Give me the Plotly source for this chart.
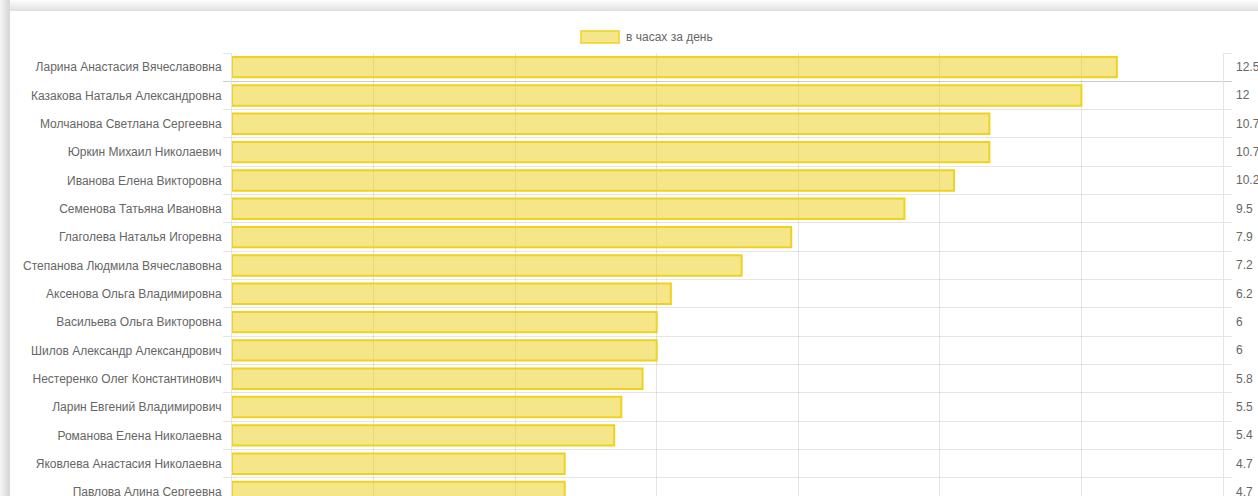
import plotly.graph_objects as go

# Часы за день по сотрудникам (видимая часть графика)
sotrudniki = [
    "Ларина Анастасия Вячеславовна",
    "Казакова Наталья Александровна",
    "Молчанова Светлана Сергеевна",
    "Юркин Михаил Николаевич",
    "Иванова Елена Викторовна",
    "Семенова Татьяна Ивановна",
    "Глаголева Наталья Игоревна",
    "Степанова Людмила Вячеславовна",
    "Аксенова Ольга Владимировна",
    "Васильева Ольга Викторовна",
    "Шилов Александр Александрович",
    "Нестеренко Олег Константинович",
    "Ларин Евгений Владимирович",
    "Романова Елена Николаевна",
    "Яковлева Анастасия Николаевна",
    "Павлова Алина Сергеевна",
]
chasy = [12.5, 12, 10.7, 10.7, 10.2, 9.5, 7.9, 7.2, 6.2, 6, 6, 5.8, 5.5, 5.4, 4.7, 4.7]
nazvanie_serii = "в часах за день"

SHIRINA, VYSOTA = 1258, 496
POLE = {"l": 232, "r": 35, "t": 53, "b": 0}
COR_TEXTO = "#666666"
COR_GRADE = "rgba(0,0,0,0.1)"
COR_ZALIVKA = "rgba(235,205,21,0.5)"
COR_KONTUR = "rgb(240,210,30)"
FONTE = "Liberation Sans, Arial, sans-serif"


def px_x(x):
    """Пиксель по горизонтали -> координата paper."""
    return (x - POLE["l"]) / (SHIRINA - POLE["l"] - POLE["r"])


def px_y(y):
    """Пиксель по вертикали -> координата paper."""
    return (VYSOTA - POLE["b"] - y) / (VYSOTA - POLE["t"] - POLE["b"])


fig = go.Figure()
fig.add_trace(
    go.Bar(
        x=chasy,
        y=sotrudniki,
        orientation="h",
        width=0.72,
        marker={"color": COR_ZALIVKA, "line": {"color": COR_KONTUR, "width": 2}},
        name=nazvanie_serii,
        showlegend=False,
        hoverinfo="skip",
    )
)

fig.update_layout(
    width=SHIRINA,
    height=VYSOTA,
    margin=POLE,
    paper_bgcolor="white",
    plot_bgcolor="white",
    font={"family": FONTE, "size": 12, "color": COR_TEXTO},
    showlegend=False,
    hovermode=False,
    xaxis=dict(
        range=[0, 14],
        dtick=2,
        showgrid=True,
        gridcolor=COR_GRADE,
        zeroline=False,
        showticklabels=False,
        fixedrange=True,
        automargin=False,
    ),
    yaxis=dict(
        type="category",
        categoryorder="array",
        categoryarray=sotrudniki,
        range=[15.14, -0.5],
        tickson="boundaries",
        ticks="outside",
        ticklen=8,
        tickcolor=COR_GRADE,
        showline=True,
        mirror="ticks",
        linecolor=COR_GRADE,
        showgrid=True,
        gridcolor=COR_GRADE,
        ticklabelstandoff=7,
        tickfont={"size": 12, "color": COR_TEXTO},
        fixedrange=True,
        automargin=False,
    ),
)

# значения справа от области построения (по оси категорий)
for imya, znachenie in zip(sotrudniki, chasy):
    fig.add_annotation(
        xref="paper", yref="y", x=1, y=imya, xshift=11,
        xanchor="left", yanchor="middle", showarrow=False,
        text=f"{znachenie:g}", font={"size": 12, "color": COR_TEXTO},
    )

# тень карточки слева и сверху
teni = []
for i in range(11):
    ton = int(252 - i * 2.6)
    teni.append(dict(type="rect", xref="paper", yref="paper", layer="below",
                     x0=px_x(0), x1=px_x(SHIRINA), y0=px_y(i), y1=px_y(i + 1),
                     fillcolor=f"rgb({ton},{ton},{ton})", line={"width": 0}))
for i in range(10):
    ton = int(244 - i * 3.2)
    teni.append(dict(type="rect", xref="paper", yref="paper", layer="below",
                     x0=px_x(i), x1=px_x(i + 1), y0=px_y(0), y1=px_y(VYSOTA),
                     fillcolor=f"rgb({ton},{ton},{ton})", line={"width": 0}))
# образец легенды
teni.append(dict(type="rect", xref="paper", yref="paper",
                 x0=px_x(581), x1=px_x(619), y0=px_y(43), y1=px_y(31),
                 fillcolor=COR_ZALIVKA, line={"color": COR_KONTUR, "width": 1.5}))
fig.update_layout(shapes=teni)
fig.add_annotation(
    xref="paper", yref="paper", x=px_x(624), y=px_y(37),
    xanchor="left", yanchor="middle", showarrow=False,
    text=nazvanie_serii, font={"size": 12, "color": COR_TEXTO},
)
# белая заплатка поверх лишнего штриха справа от области
fig.add_annotation(
    xref="paper", yref="paper", x=px_x(1232), y=px_y(81),
    xanchor="left", yanchor="middle", showarrow=False,
    text=" ", width=30, height=6, borderpad=0, bgcolor="white",
    font={"size": 4},
)

fig.write_html(
    "out.html",
    config={"displayModeBar": False, "staticPlot": True},
    post_script="document.body.style.margin='0';document.body.style.overflow='hidden';",
)
